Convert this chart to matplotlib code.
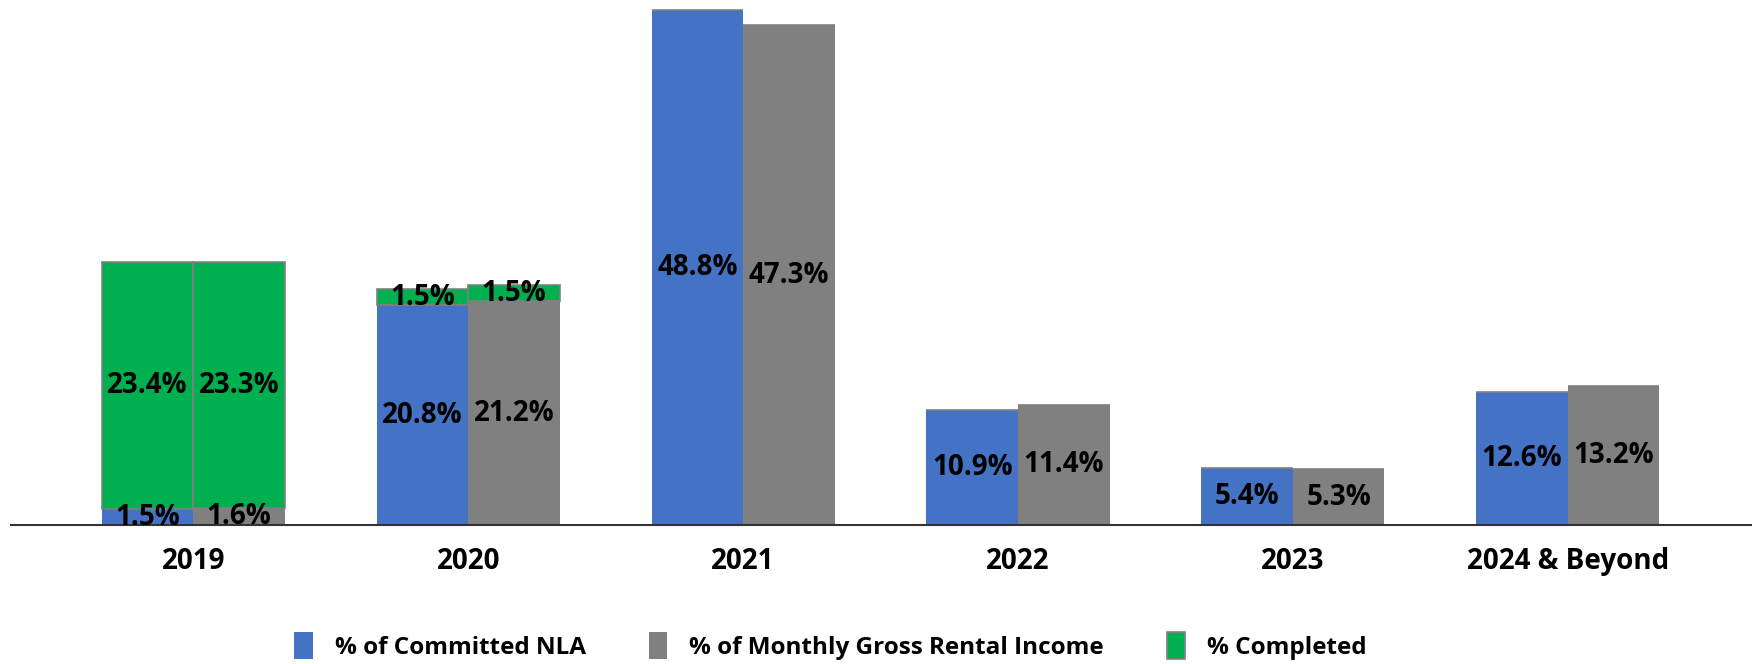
import matplotlib
matplotlib.use("Agg")
import matplotlib.pyplot as plt
import numpy as np

plt.rcParams['font.family'] = ['Open Sans', 'DejaVu Sans']
plt.rcParams['font.weight'] = 'bold'

# =========================
# Data
# =========================
years = ["2019", "2020", "2021", "2022", "2023", "2024 & Beyond"]
nla = [1.5, 20.8, 48.8, 10.9, 5.4, 12.6]
gri = [1.6, 21.2, 47.3, 11.4, 5.3, 13.2]
done_nla = [23.4, 1.5, 0, 0, 0, 0]
done_gri = [23.3, 1.5, 0, 0, 0, 0]

BLUE = "#4472C4"
GREY = "#808080"
GREEN = "#00B050"

fig = plt.figure(figsize=(17.52, 6.64), dpi=100)
ax = fig.add_axes([11 / 1752, 1 - 525 / 664, 1 - 11 / 1752, 525 / 664])

x = np.arange(len(years))
w = 0.333

b1 = ax.bar(x - w / 2, nla, w, color=BLUE, label="% of Committed NLA")
b2 = ax.bar(x + w / 2, gri, w, color=GREY, label="% of Monthly Gross Rental Income")
g1 = ax.bar(x - w / 2, done_nla, w, bottom=nla, color=GREEN,
            edgecolor=GREY, linewidth=1.2, label="% Completed")
g2 = ax.bar(x + w / 2, done_gri, w, bottom=gri, color=GREEN,
            edgecolor=GREY, linewidth=1.2)

for bars, vals in [(b1, nla), (b2, gri), (g1, done_nla), (g2, done_gri)]:
    labels = [f"{v:.1f}%" if v > 0 else "" for v in vals]
    ax.bar_label(bars, labels=labels, label_type="center",
                 fontsize=20, fontweight="bold", color="black")

ax.set_xlim(-0.663, 5.67)
ax.set_ylim(0, 49.7)
ax.set_yticks([])
ax.set_xticks(x)
ax.set_xticklabels(years, fontsize=20, fontweight="bold")
ax.tick_params(axis="x", length=0, pad=16)
for s in ["top", "left", "right"]:
    ax.spines[s].set_visible(False)
ax.spines["bottom"].set_color("#333333")
ax.spines["bottom"].set_linewidth(1.5)

fig.legend(handles=[b1, b2, g1], loc="center", ncol=3,
           bbox_to_anchor=(0.474, 1 - 646 / 664), frameon=False,
           fontsize=17.5, handlelength=0.75, handleheight=1.3,
           columnspacing=2.6, handletextpad=0.9)

fig.savefig("out.png", dpi=100)
